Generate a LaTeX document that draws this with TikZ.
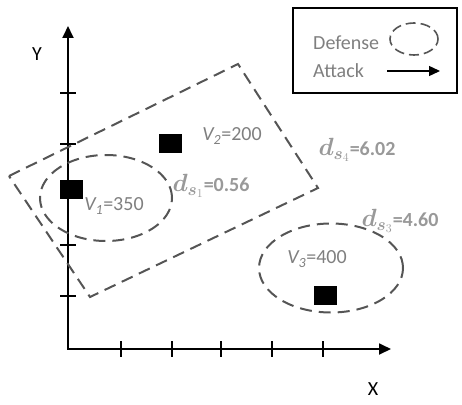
\documentclass[tikz,border=0pt]{standalone}
\usepackage{fontspec}
\setmainfont{Carlito}
\usetikzlibrary{arrows.meta,shapes.geometric}
\definecolor{dgray}{HTML}{555555}
\definecolor{tgray}{HTML}{7F7F7F}
\definecolor{dlgray}{HTML}{999999}
\newcommand{\dsym}[1]{{\fontsize{24}{26}\selectfont$\boldsymbol{d}_{\boldsymbol{s}_{#1}}$}}
\usepackage{amsmath}
\begin{document}
\begin{tikzpicture}[x=1pt,y=-1pt,
  defline/.style={draw=dgray, line width=2pt, dash pattern=on 12pt off 7pt},
  vsq/.style={fill=black, minimum width=23pt, minimum height=19pt, inner sep=0pt},
  lbl/.style={text=tgray, font=\fontsize{20}{23}\selectfont, inner sep=0pt},
  dlbl/.style={text=dlgray, font=\fontsize{20}{23}\selectfont\bfseries, inner sep=0pt},
  axlbl/.style={text=black, font=\fontsize{20}{23}\selectfont, inner sep=0pt},
  axisline/.style={line width=1.8pt, line join=miter},
  tickline/.style={line width=1.4pt}
]
\useasboundingbox (0,0) rectangle (462,404);

% axes
\coordinate (O) at (68,349);
\coordinate (Xend) at (391,349);
\coordinate (Yend) at (68,26);
\draw[axisline,{Triangle[length=12pt,width=11pt]}-{Triangle[length=12pt,width=11pt]}] (Yend) -- (O) -- (Xend);
\foreach \x in {121,172,221,272,323} \draw[tickline] (\x,341) -- (\x,357);
\foreach \y in {93,144,195,245,296} \draw[tickline] (60,\y) -- (76,\y);
\node[axlbl] (ylab) at (37,54) {Y};
\node[axlbl] (xlab) at (373,389) {X};

% rotated rectangle (defense region 4)
\coordinate (ra) at (9,176);
\coordinate (rb) at (238,64);
\coordinate (rc) at (318,188);
\coordinate (rd) at (90,297);
\draw[defline] (ra) -- (rb) -- (rc) -- (rd) -- cycle;

% ellipses
\node[ellipse, defline, minimum width=132pt, minimum height=86pt, inner sep=0pt] (e1) at (106,198) {};
\node[ellipse, defline, minimum width=144pt, minimum height=89pt, inner sep=0pt] (e3) at (331,268) {};

% squares
\node[vsq] (v1) at (71.5,189.5) {};
\node[vsq] (v2) at (170.5,143.5) {};
\node[vsq] (v3) at (325,295) {};

% labels
\node[lbl] (l1) at (114,206) {\textit{V\textsubscript{1}}=350};
\node[lbl] (l2) at (232,136) {\textit{V\textsubscript{2}}=200};
\node[lbl] (l3) at (317,259) {\textit{V\textsubscript{3}}=400};
\node[dlbl] (d1) at (211,186) {\dsym{1}=0.56};
\node[dlbl] (d4) at (357,150) {\dsym{4}=6.02};
\node[dlbl] (d3) at (400,221) {\dsym{3}=4.60};

% legend
\node[draw=black, line width=1.3pt, minimum width=164pt, minimum height=85pt, inner sep=0pt] (legend) at (375,50.5) {};
\node[lbl, anchor=west] (deftxt) at (313,43) {Defense};
\node[lbl, anchor=west] (atttxt) at (313,71) {Attack};
\node[ellipse, defline, line width=1.6pt, dash pattern=on 10pt off 5pt, minimum width=48pt, minimum height=32pt, inner sep=0pt] (legell) at (414,39) {};
\coordinate (arrs) at (387,71);
\coordinate (arre) at (440,71);
\draw[line width=1.4pt, -{Triangle[length=11pt,width=10pt]}] (arrs) -- (arre);
\end{tikzpicture}
\end{document}
